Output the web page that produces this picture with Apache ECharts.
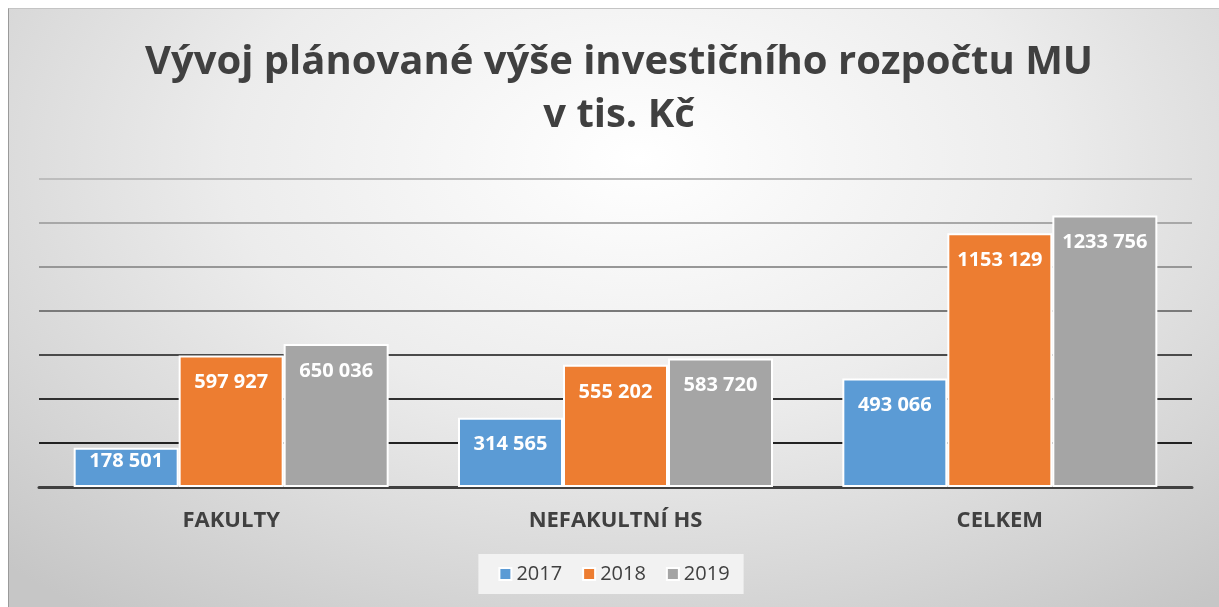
<!DOCTYPE html>
<html>
<head>
<meta charset="utf-8">
<script src="https://cdn.jsdelivr.net/npm/echarts@6/dist/echarts.min.js"></script>
<style>
  html, body { margin: 0; padding: 0; background: #fff; }
  #chart {
    position: absolute; left: 8px; top: 8px; width: 1211px; height: 599px;
    border-top: 1px solid #c4c4c4; border-left: 1px solid #9a9a9a;
    box-sizing: border-box;
    background: radial-gradient(ellipse 75% 95% at 52% 25%, #ffffff 0%, #ececec 45%, #d4d4d4 80%, #c6c6c6 100%);
  }
</style>
</head>
<body>
<div id="chart"></div>
<script>
// data
const categories = ['FAKULTY', 'NEFAKULTNÍ HS', 'CELKEM'];
const years = ['2017', '2018', '2019'];
const v2017 = [178501, 314565, 493066];
const v2018 = [597927, 555202, 1153129];
const v2019 = [650036, 583720, 1233756];
const colors = ['#5b9bd5', '#ed7d31', '#a5a5a5'];

const font = '"Open Sans", "Noto Sans", sans-serif';

// 1153 129 style
function fmt (v) {
  let rest = v % 1000;
  let head = Math.floor(v / 1000);
  return head + ' ' + String(rest).padStart(3, '0');
}

function makeSeries (name, vals, color) {
  return {
    name: name,
    type: 'bar',
    barWidth: 105,
    barGap: '0%',
    itemStyle: { color: color, borderColor: '#ffffff', borderWidth: 2 },
    label: {
      show: true,
      position: 'insideTop',
      distance: 17,
      color: '#ffffff',
      fontFamily: font,
      fontWeight: 'bold',
      fontSize: 20,
      formatter: function (p) { return fmt(p.value); }
    },
    // short bars get the label pulled closer to the top
    data: vals.map(v => v < 250000 ? { value: v, label: { distance: 4 } } : v)
  };
}

const chart = echarts.init(document.getElementById('chart'));
chart.setOption({
  animation: false,
  title: {
    text: 'Vývoj plánované výše investičního rozpočtu MU\nv tis. Kč',
    left: '50%',
    top: 22,
    textAlign: 'center',
    textStyle: {
      fontFamily: font,
      fontWeight: 'bold',
      fontSize: 40,
      lineHeight: 53,
      color: '#404040'
    }
  },
  legend: {
    data: years,
    left: 'center',
    top: 545,
    icon: 'rect',
    itemWidth: 12,
    itemHeight: 12,
    itemGap: 20,
    backgroundColor: '#f2f2f2',
    padding: [10, 14, 10, 20],
    textStyle: { fontFamily: font, fontSize: 20, color: '#404040' }
  },
  grid: { left: 30, right: 27, top: 170, bottom: 120, containLabel: false },
  xAxis: {
    type: 'category',
    data: categories,
    axisTick: { show: false },
    axisLine: { show: true, lineStyle: { color: '#404040', width: 3 } },
    axisLabel: {
      margin: 23,
      fontFamily: font,
      fontWeight: 'bold',
      fontSize: 22,
      color: '#404040'
    }
  },
  yAxis: {
    type: 'value',
    min: 0,
    max: 1400000,
    interval: 200000,
    axisLabel: { show: false },
    axisLine: { show: false },
    axisTick: { show: false },
    splitLine: {
      show: true,
      lineStyle: {
        width: 2,
        color: ['#404040', '#222222', '#303030', '#4a4a4a', '#7a7a7a', '#979797', '#a8a8a8', '#bdbdbd']
      }
    }
  },
  series: [
    makeSeries(years[0], v2017, colors[0]),
    makeSeries(years[1], v2018, colors[1]),
    makeSeries(years[2], v2019, colors[2])
  ]
});
</script>
</body>
</html>
